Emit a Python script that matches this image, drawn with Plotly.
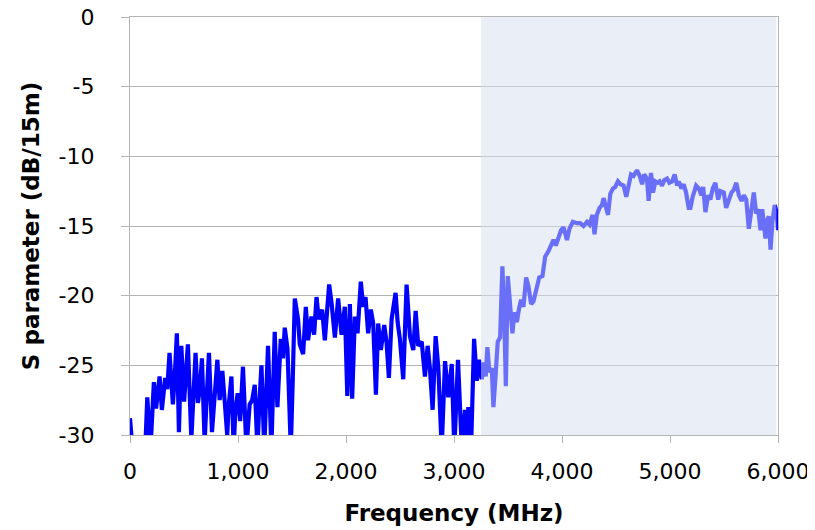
import plotly.graph_objects as go

# Frequency (MHz) and S parameter (dB/15m)
freq_mhz = [0, 9, 23, 88, 144, 160, 176, 190, 221, 241, 274, 295, 326, 345, 366, 397, 413, 434, 453, 475,
            501, 536, 568, 584, 607, 629, 649, 666, 691, 709, 731, 759, 784, 809, 830, 855, 876, 900, 913, 939,
            960, 974, 997, 1020, 1046, 1078, 1108, 1131, 1155, 1180, 1196, 1217, 1243, 1257, 1278, 1309, 1326, 1340, 1365, 1396,
            1417, 1433, 1458, 1470, 1489, 1507, 1526, 1556, 1572, 1603, 1628, 1649, 1680, 1705, 1727, 1748, 1779, 1804, 1844, 1866,
            1897, 1927, 1959, 1989, 2012, 2036, 2057, 2082, 2107, 2137, 2159, 2181, 2205, 2230, 2252, 2277, 2298, 2323, 2354, 2376,
            2397, 2422, 2459, 2478, 2499, 2530, 2561, 2592, 2623, 2645, 2669, 2701, 2731, 2756, 2777, 2802, 2830, 2855, 2886, 2917,
            2947, 2979, 3003, 3037, 3056, 3072, 3102, 3116, 3133, 3158, 3186, 3211, 3232, 3257, 3278, 3294, 3309, 3328, 3350, 3365,
            3387, 3405, 3427, 3448, 3464, 3480, 3498, 3520, 3541, 3559, 3582, 3603, 3621, 3643, 3668, 3689, 3714, 3736, 3767, 3789,
            3819, 3844, 3875, 3900, 3921, 3943, 3967, 3992, 4014, 4046, 4069, 4101, 4138, 4169, 4199, 4231, 4255, 4283, 4301, 4323,
            4348, 4370, 4385, 4410, 4426, 4447, 4472, 4493, 4518, 4540, 4570, 4595, 4617, 4639, 4663, 4694, 4719, 4742, 4762, 4787,
            4802, 4824, 4843, 4864, 4886, 4904, 4926, 4948, 4973, 4994, 5019, 5043, 5066, 5081, 5106, 5127, 5149, 5173, 5189, 5210,
            5242, 5266, 5291, 5307, 5328, 5353, 5374, 5396, 5420, 5446, 5467, 5498, 5520, 5544, 5569, 5591, 5614, 5638, 5663, 5684,
            5706, 5730, 5755, 5776, 5798, 5817, 5838, 5854, 5869, 5884, 5900, 5915, 5931, 5949, 5970, 5986, 6000]

s_param_db = [-28.8, -29.5, -31.0, -31.5, -30.5, -27.3, -29.8, -31.0, -26.2, -28.1, -25.8, -28.2, -25.9, -26.7, -24.1, -27.8, -26.0, -22.7, -29.8, -23.6,
              -27.6, -23.5, -30.3, -27.5, -24.1, -27.7, -26.5, -24.5, -30.5, -27.5, -24.1, -29.8, -27.0, -24.6, -27.5, -25.4, -27.5, -30.0, -28.0, -25.8,
              -31.0, -28.5, -27.0, -29.0, -25.1, -31.0, -27.8, -27.5, -26.4, -31.0, -28.0, -25.0, -31.0, -27.0, -23.6, -31.0, -27.0, -22.6, -28.0, -23.1,
              -24.5, -22.3, -23.8, -27.0, -31.0, -26.0, -20.2, -21.7, -23.5, -24.2, -20.8, -23.2, -21.5, -22.8, -20.1, -21.7, -21.0, -23.2, -19.2, -20.5,
              -23.0, -20.2, -22.8, -20.8, -27.2, -20.6, -27.4, -21.5, -22.7, -19.0, -20.8, -20.1, -22.7, -21.0, -22.0, -27.1, -22.0, -23.9, -22.1, -23.4,
              -25.9, -21.7, -19.8, -21.9, -23.1, -26.0, -19.2, -22.9, -23.9, -21.1, -23.6, -23.3, -25.8, -23.6, -25.2, -28.2, -22.9, -25.2, -31.0, -24.7,
              -27.3, -24.9, -31.0, -24.6, -29.0, -31.0, -28.2, -30.5, -28.0, -31.0, -23.1, -26.1, -24.6, -26.0, -24.8, -25.8, -23.7, -25.5, -25.2, -28.0,
              -25.5, -23.3, -23.0, -17.9, -21.0, -26.5, -18.6, -20.5, -22.7, -21.2, -21.9, -20.9, -20.3, -20.8, -18.7, -19.3, -20.6, -20.4, -19.2, -18.7,
              -18.6, -17.2, -16.8, -16.3, -16.0, -16.4, -15.9, -15.3, -15.1, -16.0, -15.2, -14.7, -14.8, -14.8, -15.0, -14.7, -14.9, -14.2, -15.6, -14.2,
              -13.7, -13.5, -13.0, -13.6, -14.2, -12.7, -12.3, -12.2, -11.8, -12.0, -12.1, -12.9, -11.9, -11.3, -11.4, -11.0, -11.4, -12.0, -11.3, -11.6,
              -13.2, -11.2, -12.6, -11.8, -11.9, -11.8, -12.1, -11.7, -11.6, -11.9, -11.8, -11.3, -12.1, -11.8, -12.3, -12.0, -12.6, -13.7, -13.7, -12.9,
              -12.1, -12.3, -12.8, -12.2, -14.0, -12.8, -13.1, -12.3, -11.9, -13.1, -12.5, -12.6, -13.7, -13.1, -12.6, -12.4, -11.9, -12.8, -13.2, -12.8,
              -13.1, -15.2, -13.5, -12.6, -14.1, -13.8, -15.3, -13.8, -14.8, -15.9, -14.6, -14.3, -16.7, -14.6, -13.5, -14.0, -15.3]

x_ticks = [0, 1000, 2000, 3000, 4000, 5000, 6000]
x_tick_labels = ["0", "1,000", "2,000", "3,000", "4,000", "5,000", "6,000"]
y_ticks = [0, -5, -10, -15, -20, -25, -30]
y_tick_labels = ["0", "-5", "-10", "-15", "-20", "-25", "-30"]
shade_band = [3250, 5985]

fig = go.Figure()
fig.add_trace(go.Scatter(x=freq_mhz, y=s_param_db, mode="lines",
                         line=dict(color="#0000FF", width=4.2), showlegend=False))

fig.add_shape(type="rect", xref="x", yref="y", x0=shade_band[0], x1=shade_band[1], y0=-30, y1=0,
              fillcolor="rgba(212,221,240,0.5)", line=dict(width=0), layer="above")

grid_c = "#B4B4B4"
# the page body adds an 8px offset, so the figure is sized to fit the 815x530 window
fig.update_layout(
    width=807, height=522,
    margin=dict(l=122, r=37, t=9, b=95),
    paper_bgcolor="white", plot_bgcolor="white",
    font=dict(family="DejaVu Sans", size=22, color="#000000"),
    xaxis=dict(range=[0, 6000], tickvals=x_ticks, ticktext=x_tick_labels,
               showgrid=False, zeroline=False, showline=True, linecolor=grid_c, linewidth=1.3,
               mirror=True, ticks="outside", ticklen=7, tickcolor=grid_c, tickwidth=1.3,
               ticklabelstandoff=9, automargin=False,
               title=dict(text="<b>Frequency (MHz)</b>", font=dict(size=23), standoff=22)),
    yaxis=dict(range=[-30, 0], tickvals=y_ticks, ticktext=y_tick_labels,
               showgrid=True, gridcolor=grid_c, gridwidth=1.3, zeroline=False,
               showline=True, linecolor=grid_c, linewidth=1.3, mirror=True,
               ticks="outside", ticklen=8, tickcolor=grid_c, tickwidth=1.3,
               ticklabelstandoff=22, automargin=False, ticklabeloverflow="allow",
               title=dict(text="<b>S parameter (dB/15m)</b>", font=dict(size=23), standoff=12)),
)

fig.write_html("out.html")
